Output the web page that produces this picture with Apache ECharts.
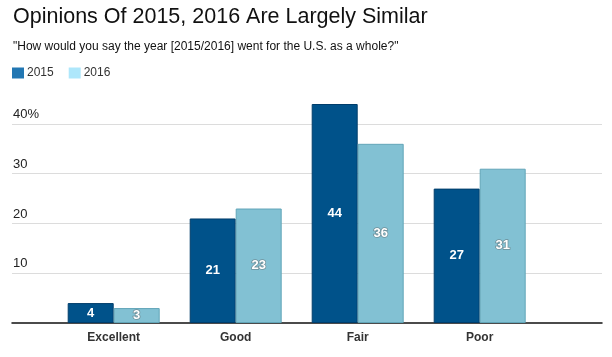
<!DOCTYPE html>
<html><head><meta charset="utf-8">
<script src="https://cdn.jsdelivr.net/npm/echarts@6/dist/echarts.min.js"></script>
<style>html,body{margin:0;padding:0;background:#fff}#c{width:612px;height:357px}</style>
</head><body><div id="c"></div>
<script>
var categories = ["Excellent", "Good", "Fair", "Poor"];
var values2015 = [4, 21, 44, 27];
var values2016 = [3, 23, 36, 31];
var seriesNames = ["2015", "2016"];
var yTicks = [10, 20, 30, 40];

var FONT = '"Liberation Sans", Arial, Helvetica, sans-serif';
var chart = echarts.init(document.getElementById('c'), null, {renderer: 'canvas'});
var YMAX = 44;
var labelStyle = function (border) {
  return {
    show: true, position: 'inside', color: '#fff', fontFamily: FONT,
    fontWeight: 'bold', fontSize: 13, textBorderColor: border, textBorderWidth: 1.5
  };
};
chart.setOption({
  animation: false,
  title: [{
    text: 'Opinions Of 2015, 2016 Are Largely Similar',
    left: 8, top: 1,
    textStyle: {fontFamily: FONT, fontWeight: 'normal', fontSize: 21.5, color: '#111'}
  }, {
    text: '"How would you say the year [2015/2016] went for the U.S. as a whole?"',
    left: 8, top: 36,
    textStyle: {fontFamily: FONT, fontWeight: 'normal', fontSize: 12, color: '#111'}
  }],
  legend: {
    left: 7, top: 62, itemWidth: 12, itemHeight: 11, itemGap: 15,
    icon: 'rect',
    textStyle: {fontFamily: FONT, fontSize: 12, color: '#333', padding: [0, 0, 0, -2]},
    data: [
      {name: seriesNames[0], itemStyle: {color: '#2277b3', borderWidth: 0}},
      {name: seriesNames[1], itemStyle: {color: '#aee7fb', borderWidth: 0}}
    ]
  },
  grid: [
    {left: 12, right: 10, top: 104, bottom: 34, containLabel: false},
    {left: 52.7, right: 71.3, top: 104, bottom: 34, containLabel: false}
  ],
  xAxis: [
    {gridIndex: 0, type: 'category', data: categories, show: true,
     axisLine: {show: true, lineStyle: {color: '#111', width: 1.5}},
     axisTick: {show: false}, axisLabel: {show: false}, splitLine: {show: false}},
    {gridIndex: 1, type: 'category', data: categories,
     axisLine: {show: false}, axisTick: {show: false},
     axisLabel: {fontFamily: FONT, fontWeight: 'bold', fontSize: 12, color: '#333', margin: 9}}
  ],
  yAxis: [
    {gridIndex: 0, type: 'value', min: 0, max: YMAX, interval: 10,
     axisLine: {show: false}, axisTick: {show: false},
     splitLine: {show: true, showMinLine: false, showMaxLine: false, lineStyle: {color: '#dcdcdc', width: 1}},
     axisLabel: {
       inside: true, showMaxLabel: false, showMinLabel: false,
       verticalAlign: 'bottom', margin: 1, padding: [0, 0, 3, 0],
       fontFamily: FONT, fontSize: 13, color: '#222',
       formatter: function (v) {
         if (yTicks.indexOf(v) < 0) return '';
         return v === yTicks[yTicks.length - 1] ? v + '%' : String(v);
       }
     }},
    {gridIndex: 1, type: 'value', min: 0, max: YMAX, show: false, splitLine: {show: false}}
  ],
  series: [
    {name: seriesNames[0], type: 'bar', xAxisIndex: 1, yAxisIndex: 1, data: values2015,
     barWidth: 46, barGap: '0%',
     itemStyle: {color: '#00528a', borderColor: '#003d6b', borderWidth: 1},
     label: labelStyle('#00528a')},
    {name: seriesNames[1], type: 'bar', xAxisIndex: 1, yAxisIndex: 1, data: values2016,
     barWidth: 46, barGap: '0%',
     itemStyle: {color: '#82c1d3', borderColor: '#62a5b8', borderWidth: 1},
     label: labelStyle('#6f8f99')}
  ]
});
</script></body></html>
